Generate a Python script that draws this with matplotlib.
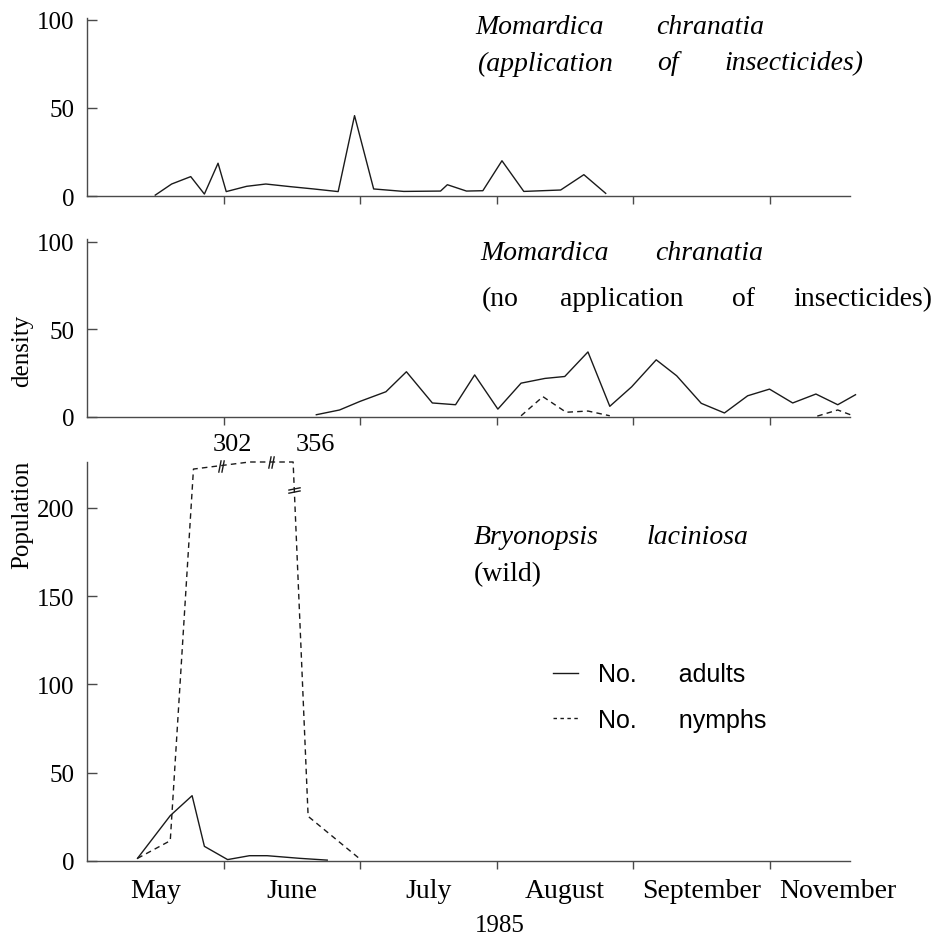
import numpy as np
import matplotlib
matplotlib.use("Agg")
import matplotlib.pyplot as plt
from matplotlib.path import Path
from matplotlib.lines import Line2D

# ---------------- data (x in months since 1 May 1985) ----------------
months = ["May", "June", "July", "August", "September", "November"]

# Panel 1: Momardica chranatia, insecticides applied (adults)
x_top = [0.50, 0.62, 0.76, 0.86, 0.96, 1.02, 1.17, 1.31, 1.49, 1.66, 1.84, 1.96,
         2.10, 2.32, 2.59, 2.64, 2.78, 2.90, 3.04, 3.20, 3.47, 3.64, 3.80]
y_top = [0.5, 6.8, 11.0, 1.1, 18.6, 2.5, 5.5, 6.8, 5.3, 4.0, 2.5, 45.6,
         4.0, 2.6, 2.8, 6.4, 2.8, 3.0, 20.0, 2.6, 3.4, 12.1, 1.5]

# Panel 2: Momardica chranatia, no insecticides
x_mid_adults = [1.68, 1.85, 2.00, 2.19, 2.34, 2.53, 2.70, 2.84, 3.01, 3.18, 3.355, 3.50,
                3.67, 3.83, 3.99, 4.17, 4.32, 4.50, 4.67, 4.84, 5.00, 5.17, 5.34, 5.50, 5.63]
y_mid_adults = [1.3, 4.0, 8.9, 14.4, 25.8, 8.0, 7.0, 24.0, 4.5, 19.3, 22.0, 23.1,
                37.1, 6.1, 17.2, 32.6, 23.5, 7.8, 2.3, 12.1, 15.9, 8.0, 13.1, 7.0, 12.7]
x_mid_nymphs = [3.18, 3.34, 3.51, 3.67, 3.83, np.nan, 5.35, 5.50, 5.62]
y_mid_nymphs = [0.7, 11.6, 2.7, 3.4, 0.7, np.nan, 0.5, 4.0, 0.5]

# Panel 3: Bryonopsis laciniosa (wild)
x_bry_adults = [0.37, 0.61, 0.77, 0.86, 1.03, 1.19, 1.32, 1.56, 1.76]
y_bry_adults = [1.5, 25.7, 37.0, 8.3, 0.8, 3.0, 3.0, 1.5, 0.5]
x_bry_nymphs = [0.37, 0.61, 0.78, 1.19, 1.51, 1.62, 2.00]
y_bry_nymphs = [1.5, 11.5, 222, 302, 356, 25.3, 1.1]
axis_cap = 226  # values above are drawn at the top of the broken axis

# ---------------- styling ----------------
W, H = 940, 937
SERIF = "Liberation Serif"
SANS = "Liberation Sans"
LC = "#1a1a1a"
SPC = "#4a4a4a"
plt.rcParams["font.family"] = [SERIF, "DejaVu Serif"]

fig = plt.figure(figsize=(W / 100, H / 100), dpi=100)


def rect(x0, x1, ytop, ybot):
    return [x0 / W, 1 - ybot / H, (x1 - x0) / W, (ybot - ytop) / H]


XMAX = 5.59
ax1 = fig.add_axes(rect(87, 87 + XMAX * 136.5, 19, 197))
ax2 = fig.add_axes(rect(87, 87 + XMAX * 136.5, 240, 418))
ax3 = fig.add_axes(rect(87, 87 + XMAX * 136.5, 463, 862))

for ax in (ax1, ax2, ax3):
    ax.set_xlim(0, XMAX)
    for s in ("top", "right"):
        ax.spines[s].set_visible(False)
    for s in ("left", "bottom"):
        ax.spines[s].set_color(SPC)
        ax.spines[s].set_linewidth(1.0)
    ax.set_xticks(np.arange(1, 6))
    ax.tick_params(axis="x", direction="out", length=6, width=1.0, color=SPC,
                   labelbottom=False)
    ax.tick_params(axis="y", direction="in", length=7, width=1.0, color=SPC,
                   labelsize=18, pad=9)
    ax.patch.set_alpha(0)

ax1.set_ylim(0, 101)
ax1.set_yticks([0, 50, 100])
ax2.set_ylim(0, 101.5)
ax2.set_yticks([0, 50, 100])
ax3.set_ylim(0, axis_cap)
ax3.set_yticks([0, 50, 100, 150, 200])

LW = 1.0
DASH = (4, 3)

ax1.plot(x_top, y_top, color=LC, lw=LW, clip_on=False)

ax2.plot(x_mid_adults, y_mid_adults, color=LC, lw=LW, clip_on=False)
ax2.plot(x_mid_nymphs, y_mid_nymphs, color=LC, lw=LW, ls=(0, DASH), clip_on=False)

ax3.plot(x_bry_adults, y_bry_adults, color=LC, lw=LW, clip_on=False)
yn = np.array(y_bry_nymphs, dtype=float)
yn_draw = np.minimum(yn, axis_cap)
xn = np.array(x_bry_nymphs, dtype=float)
ax3.plot(xn, yn_draw, color=LC, lw=LW, ls=(0, DASH), clip_on=False)

# break marks on the nymph line
brk_h = Path([(-0.45, -1), (-0.05, 1), (0.05, -1), (0.45, 1)],
             [Path.MOVETO, Path.LINETO, Path.MOVETO, Path.LINETO])
brk_v = Path([(-1, -0.45), (1, -0.05), (-1, 0.05), (1, 0.45)],
             [Path.MOVETO, Path.LINETO, Path.MOVETO, Path.LINETO])
over = np.where(yn > axis_cap)[0]
for i in over:
    xm = (xn[i - 1] + xn[i]) / 2
    ym = np.interp(xm, xn, yn_draw)
    ax3.plot([xm], [ym], marker=brk_h, ms=9, mew=1.0, color=LC, ls="none",
             clip_on=False)
i = over[-1]
yv = axis_cap - 16
xv = xn[i] + (xn[i + 1] - xn[i]) * (axis_cap - yv) / (axis_cap - yn_draw[i + 1])
ax3.plot([xv], [yv], marker=brk_v, ms=9, mew=1.0, color=LC, ls="none", clip_on=False)

# labels of broken values
ax3.annotate(f"{int(yn[over[0]])}", (xn[over[0]], yn_draw[over[0]]),
             xytext=(2, 5), textcoords="offset points", ha="right", va="bottom",
             fontsize=19, annotation_clip=False)
ax3.annotate(f"{int(yn[over[1]])}", (xn[over[1]], yn_draw[over[1]]),
             xytext=(2, 5), textcoords="offset points", ha="left", va="bottom",
             fontsize=19, annotation_clip=False)

# month labels centred in each month interval
ax3.set_xticks(np.arange(len(months)) + 0.5, minor=True)
ax3.set_xticklabels(months, minor=True, fontsize=20)
ax3.tick_params(axis="x", which="minor", length=0, pad=12)

# legend
handles = [Line2D([], [], color=LC, lw=LW),
           Line2D([], [], color=LC, lw=LW, ls=(0, (2.5, 2.5)))]
ax3.legend(handles, ["No.      adults", "No.      nymphs"],
           prop={"family": SANS, "size": 18}, frameon=False,
           loc="center left", bbox_to_anchor=(553 / W, 1 - 698 / H),
           bbox_transform=fig.transFigure, borderpad=0, borderaxespad=0,
           handlelength=1.0, handletextpad=0.8, labelspacing=0.85)


# panel titles (word by word for the wide spacing)
def ftxt(x, y, s, italic=False, size=20):
    fig.text(x / W, 1 - y / H, s, ha="left", va="center", fontsize=size,
             style="italic" if italic else "normal")


ftxt(475, 28, "Momardica", True)
ftxt(656, 28, "chranatia", True)
ftxt(477, 64, "(application", True)
ftxt(657, 64, "of", True)
ftxt(724, 64, "insecticides)", True)

ftxt(480, 253, "Momardica", True)
ftxt(655, 253, "chranatia", True)
ftxt(482, 300, "(no")
ftxt(560, 300, "application")
ftxt(732, 300, "of")
ftxt(793, 300, "insecticides)")

ftxt(474, 538, "Bryonopsis", True)
ftxt(647, 538, "laciniosa", True)
ftxt(474, 575, "(wild)")

# axis labels
fig.text(22 / W, 1 - 515 / H, "Population", rotation=90, ha="center", va="center",
         fontsize=18)
fig.text(22 / W, 1 - 351 / H, "density", rotation=90, ha="center", va="center",
         fontsize=18)
fig.text(500 / W, 1 - 926 / H, "1985", ha="center", va="center", fontsize=18)

fig.savefig("out.png", dpi=100)
